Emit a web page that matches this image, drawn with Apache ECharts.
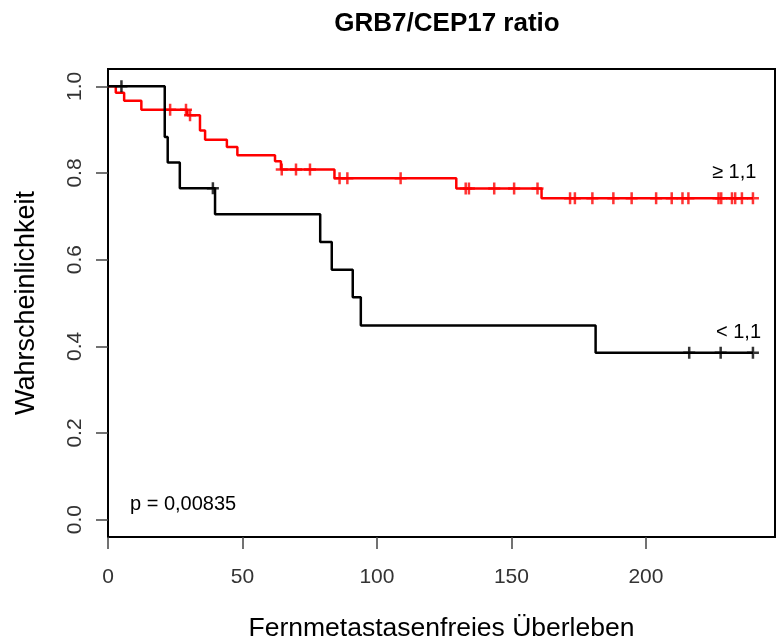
<!DOCTYPE html>
<html>
<head>
<meta charset="utf-8">
<script src="https://cdn.jsdelivr.net/npm/echarts@6/dist/echarts.min.js"></script>
<style>
html,body{margin:0;padding:0;background:#fff;}
#chart{width:779px;height:642px;}
</style>
</head>
<body>
<div id="chart"></div>
<script>
// ---- Data ----
var titleText = 'GRB7/CEP17 ratio';
var xAxisTitle = 'Fernmetastasenfreies Überleben';
var yAxisTitle = 'Wahrscheinlichkeit';
var xTicks = [0, 50, 100, 150, 200];
var yTicks = [0, 0.2, 0.4, 0.6, 0.8, 1.0];

// group ">= 1,1" (red)
var redTimes = [0, 2.9, 6.0, 12.4, 29.5, 34.2, 36.1, 44.2, 48.1, 62.1, 64.3, 84.2, 129.5, 161.2, 239.8];
var redSurv  = [1.0, 0.985, 0.967, 0.946, 0.933, 0.898, 0.877, 0.860, 0.841, 0.827, 0.808, 0.788, 0.764, 0.742, 0.742];
var redCensor = [23.1, 29.0, 30.5, 64.6, 69.9, 75.1, 86.1, 89.0, 108.8, 133.0, 134.2, 143.6, 151.0, 159.7,
                 171.8, 173.6, 180.1, 187.9, 194.7, 203.8, 209.6, 213.6, 215.8, 227.0, 228.0, 232.0, 233.2, 235.7, 239.8];

// group "< 1,1" (black)
var blackTimes = [0, 21.1, 22.2, 26.7, 39.8, 78.9, 83.2, 91.0, 94.0, 181.3, 239.8];
var blackSurv  = [1.0, 0.883, 0.824, 0.765, 0.705, 0.641, 0.577, 0.513, 0.448, 0.385, 0.385];
var blackCensor = [5.0, 39.0, 216.1, 227.8, 239.8];

var redLabel = '\u2265 1,1';
var blackLabel = '< 1,1';
var pText = 'p = 0,00835';

// ---- helpers ----
function pairs(ts, ss) { return ts.map(function (t, i) { return [t, ss[i]]; }); }
function survAt(ts, ss, t) {
  var v = ss[0];
  for (var i = 0; i < ts.length; i++) { if (ts[i] <= t) v = ss[i]; }
  return v;
}
function censorPts(cs, ts, ss) { return cs.map(function (t) { return [t, survAt(ts, ss, t)]; }); }

var plusPath = 'path://M-1.25,-6 L1.25,-6 L1.25,-1.25 L6,-1.25 L6,1.25 L1.25,1.25 L1.25,6 L-1.25,6 L-1.25,1.25 L-6,1.25 L-6,-1.25 L-1.25,-1.25 Z';
var FONT = 'Liberation Sans, Arial, sans-serif';

var chart = echarts.init(document.getElementById('chart'), null, {renderer: 'canvas'});
chart.setOption({
  backgroundColor: '#fff',
  animation: false,
  title: {
    text: titleText,
    left: 442, top: 6, textAlign: 'center',
    textStyle: {fontFamily: FONT, fontSize: 26, fontWeight: 'bold', color: '#000'}
  },
  grid: {left: 108, top: 69, width: 667, height: 468, show: true, borderColor: '#000', borderWidth: 2,
         backgroundColor: 'transparent', containLabel: false, outerBoundsMode: 'none'},
  xAxis: {
    type: 'value', min: 0, max: 248, interval: 50,
    name: xAxisTitle, nameLocation: 'middle', nameGap: 78,
    nameTextStyle: {fontFamily: FONT, fontSize: 26.5, color: '#000'},
    axisLine: {show: false, onZero: false},
    splitLine: {show: false},
    axisTick: {show: true, length: 12, lineStyle: {color: '#444', width: 1.5}, customValues: xTicks},
    axisLabel: {fontFamily: FONT, fontSize: 21, color: '#333', margin: 30, customValues: xTicks,
      formatter: function (v) { return String(v); }}
  },
  yAxis: {
    type: 'value', min: -0.04, max: 1.04,
    name: yAxisTitle, nameLocation: 'middle', nameGap: 68, nameRotate: 90,
    nameTextStyle: {fontFamily: FONT, fontSize: 27, color: '#000'},
    axisLine: {show: false, onZero: false},
    splitLine: {show: false},
    axisTick: {show: true, length: 12, lineStyle: {color: '#444', width: 1.5}, customValues: yTicks},
    axisLabel: {fontFamily: FONT, fontSize: 21, color: '#333', margin: 22, rotate: 90, customValues: yTicks,
      formatter: function (v) { return v.toFixed(1); }}
  },
  series: [
    {type: 'line', step: 'end', data: pairs(redTimes, redSurv), symbol: 'none',
     lineStyle: {color: '#ff0000', width: 2.5}, z: 3},
    {type: 'line', step: 'end', data: pairs(blackTimes, blackSurv), symbol: 'none',
     lineStyle: {color: '#000', width: 2.5}, z: 4},
    {type: 'scatter', data: censorPts(redCensor, redTimes, redSurv), symbol: plusPath, symbolSize: 12,
     itemStyle: {color: '#ff0000'}, z: 3},
    {type: 'scatter', data: censorPts(blackCensor, blackTimes, blackSurv), symbol: plusPath, symbolSize: 12,
     itemStyle: {color: '#000'}, z: 4}
  ],
  graphic: [
    {type: 'text', left: 712, top: 162, style: {text: redLabel, font: '20px ' + FONT, fill: '#000'}},
    {type: 'text', left: 716, top: 322, style: {text: blackLabel, font: '20px ' + FONT, fill: '#000'}},
    {type: 'text', left: 130, top: 494, style: {text: pText, font: '20px ' + FONT, fill: '#000'}}
  ]
});
</script>
</body>
</html>
